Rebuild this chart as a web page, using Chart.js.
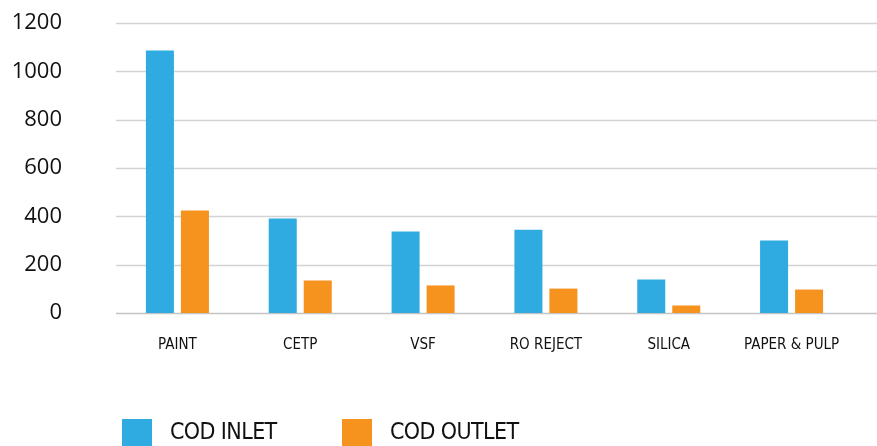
<!DOCTYPE html>
<html>
<head>
<meta charset="utf-8">
<script src="https://cdn.jsdelivr.net/npm/chart.js@4/dist/chart.umd.min.js"></script>
<style>
  html, body { margin: 0; padding: 0; background: #ffffff; overflow: hidden; }
  #wrap { position: relative; width: 877px; height: 446px; }
  #legend { position: absolute; left: 0; top: 0; width: 877px; height: 446px; pointer-events: none; }
  .lg-box { position: absolute; width: 30px; height: 27px; }
  .lg-text { position: absolute; font-family: 'Liberation Sans Narrow', 'DejaVu Sans Condensed', 'DejaVu Sans', sans-serif; font-stretch: condensed; font-size: 23px; letter-spacing: -0.6px; color: #111; line-height: 27px; white-space: nowrap; }
</style>
</head>
<body>
<div id="wrap">
  <canvas id="c" width="877" height="446"></canvas>
  <div id="legend"></div>
</div>
<script>
const categories = ['PAINT', 'CETP', 'VSF', 'RO REJECT', 'SILICA', 'PAPER & PULP'];
const codInlet = [1086, 391, 337, 345, 139, 300];
const codOutlet = [424, 134, 114, 101, 31, 97];
const seriesNames = ['COD INLET', 'COD OUTLET'];
const seriesColors = ['#2FABE1', '#F6921E'];
const yTicks = [0, 200, 400, 600, 800, 1000, 1200];

const extendedGrid = {
  id: 'extendedGrid',
  beforeDatasetsDraw(chart) {
    const ctx = chart.ctx;
    const y = chart.scales.y;
    const left = chart.chartArea.left;
    const right = chart.width;
    ctx.save();
    y.ticks.forEach(t => {
      const py = Math.round(y.getPixelForValue(t.value)) + 0.5;
      ctx.beginPath();
      ctx.lineWidth = 1.6;
      ctx.strokeStyle = t.value === 0 ? '#C4C4C4' : '#D3D3D3';
      ctx.moveTo(left, py);
      ctx.lineTo(right, py);
      ctx.stroke();
    });
    ctx.restore();
  }
};

const chart = new Chart(document.getElementById('c'), {
  type: 'bar',
  data: {
    labels: categories,
    datasets: [
      { label: seriesNames[0], data: codInlet, backgroundColor: seriesColors[0], borderWidth: 0 },
      { label: seriesNames[1], data: codOutlet, backgroundColor: seriesColors[1], borderWidth: 0 }
    ]
  },
  options: {
    responsive: false,
    animation: false,
    devicePixelRatio: 1,
    layout: { padding: { top: 23, right: 24, left: 0, bottom: 0 } },
    datasets: { bar: { categoryPercentage: 0.57, barPercentage: 0.8 } },
    plugins: {
      legend: { display: false },
      tooltip: { enabled: false }
    },
    scales: {
      x: {
        grid: { display: false, drawTicks: false },
        border: { display: false },
        ticks: {
          color: '#111111',
          padding: 23,
          maxRotation: 0,
          autoSkip: false,
          font: { family: "'Liberation Sans Narrow', 'DejaVu Sans Condensed', 'DejaVu Sans', sans-serif", size: 15 }
        },
        afterFit(scale) { scale.height = 133; scale.paddingLeft = 0; scale.paddingRight = 0; }
      },
      y: {
        min: 0,
        max: 1200,
        grid: { display: false, drawTicks: false },
        border: { display: false },
        ticks: {
          stepSize: 200,
          color: '#111111',
          padding: 54,
          font: { family: "'Open Sans', sans-serif", size: 22 },
          callback: (v) => yTicks.includes(v) ? String(v) : ''
        },
        afterFit(scale) { scale.width = 116; scale.paddingTop = 0; scale.paddingBottom = 0; }
      }
    }
  },
  plugins: [extendedGrid]
});

// HTML legend built from the series arrays
const legend = document.getElementById('legend');
const legendX = [122, 342];
seriesNames.forEach((name, i) => {
  const box = document.createElement('div');
  box.className = 'lg-box';
  box.style.left = legendX[i] + 'px';
  box.style.top = '419px';
  box.style.background = seriesColors[i];
  legend.appendChild(box);
  const txt = document.createElement('div');
  txt.className = 'lg-text';
  txt.style.left = (legendX[i] + 48) + 'px';
  txt.style.top = '418px';
  txt.textContent = name;
  legend.appendChild(txt);
});
</script>
</body>
</html>
